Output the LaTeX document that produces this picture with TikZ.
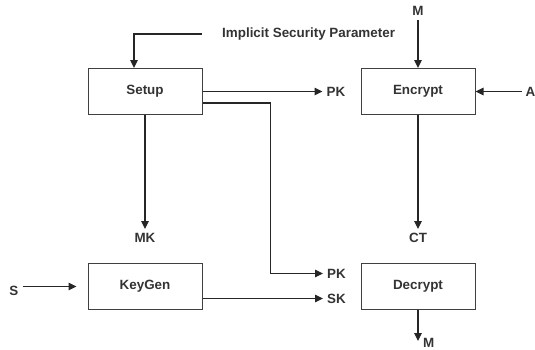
\documentclass[tikz,border=0pt]{standalone}
\usepackage{fontspec}
\setmainfont{Liberation Sans}
\usetikzlibrary{arrows.meta,positioning}

\begin{document}
\begin{tikzpicture}[
    x=1pt, y=1pt,
    every node/.style={font=\fontsize{13.4}{15}\selectfont\bfseries, text=black!80},
    box/.style={draw=black!75, line width=1pt, minimum width=114pt, minimum height=46pt, inner sep=0pt},
    lbl/.style={inner sep=4pt},
    arr/.style={-{Triangle[length=8pt,width=7.5pt]}, line width=1.1pt, draw=black!85}
]
\useasboundingbox (0,0) rectangle (535,-349);
\node[box] (setup) at (145,-91.5) {Setup};
\node[box, right=158pt of setup] (encrypt) {Encrypt};
\node[box, below=148pt of setup] (keygen) {KeyGen};
\node[box, below=148pt of encrypt] (decrypt) {Decrypt};

% inputs and outputs
\node[lbl, anchor=west] (isp) at (218,-34) {Implicit Security Parameter};
\node[lbl, above=48pt of encrypt] (msg) {M};
\node[lbl, right=46pt of encrypt] (attr) {A};
\node[lbl, right=120pt of setup] (pk1) {PK};
\node[lbl, below=114pt of setup] (mk) {MK};
\node[lbl, below=114pt of encrypt] (ct) {CT};
\node[lbl, anchor=west] (pk2) at ([xshift=-37.5pt,yshift=13pt]decrypt.west) {PK};
\node[lbl, anchor=west] (sk) at ([xshift=-37.5pt,yshift=-12pt]decrypt.west) {SK};
\node[lbl, left=65pt of keygen, yshift=-4pt] (seed) {S};
\coordinate[below=31pt of decrypt] (out);
\node[lbl, anchor=west] (msgout) at ([xshift=1pt,yshift=-2pt]out) {M};

\draw[arr] ([xshift=-16pt]isp.west) -| ([xshift=-11pt]setup.north);
\draw[arr] (msg) -- (encrypt);
\draw[arr] (attr) -- (encrypt);
\draw[arr] (setup) -- (pk1);
\draw[arr] ([yshift=-11.5pt]setup.east) -- ++(67.6,0) |- (pk2);
\draw[arr] (setup) -- (mk);
\draw[arr] (encrypt) -- (ct);
\draw[arr] (keygen.east |- sk) -- (sk);
\draw[arr] (seed.east |- keygen) -- ([xshift=-11pt]keygen.west);
\draw[arr] (decrypt) -- (out);
\end{tikzpicture}
\end{document}
